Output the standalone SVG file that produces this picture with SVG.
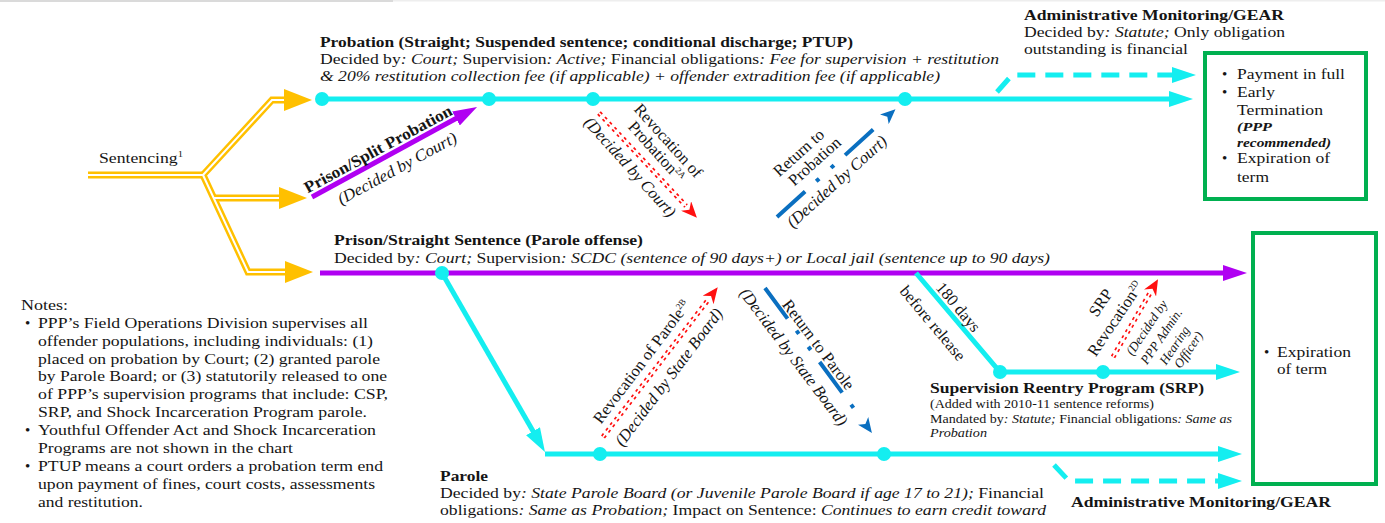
<svg xmlns="http://www.w3.org/2000/svg" width="1385" height="523" viewBox="0 0 1385 523">
  <style>
    text { font-family: "Liberation Serif", "Times New Roman", serif; font-size: 15px; fill: #151515; }
    .b { font-weight: bold; }
    .i { font-style: italic; }
    .sm { font-size: 12.5px; }
    .xs { font-size: 12px; }
    .rl { font-size: 16.5px; }
    .rs { font-size: 13px; }
    .sup { font-size: 9px; }
    .cy { fill: none; stroke: #14EEF0; stroke-width: 5; }
    .pu { fill: none; stroke: #B000F2; stroke-width: 5; }
    .yo { fill: none; stroke: #FFC000; stroke-width: 7; }
    .yi { fill: none; stroke: #FFFFFF; stroke-width: 2; }
    .rd { fill: none; stroke: #FF1010; stroke-width: 5; stroke-dasharray: 3 4; }
    .rw { fill: none; stroke: #FFFFFF; stroke-width: 1.6; }
    .bl { fill: none; stroke: #0A6FC0; stroke-width: 4; stroke-dasharray: 38 15 4 16 4 15; }
    .dash { stroke-dasharray: 18 10; }
    .dot { fill: #14EEF0; }
    .box { fill: #FFFFFF; stroke: #00B050; stroke-width: 4; }
  </style>
  <defs>
    <marker id="aCyan" markerUnits="userSpaceOnUse" viewBox="0 0 24 16" markerWidth="24" markerHeight="16" refX="12" refY="8" orient="auto">
      <path d="M0,0 L24,8 L0,16 z" fill="#14EEF0"/>
    </marker>
    <marker id="aPurple" markerUnits="userSpaceOnUse" viewBox="0 0 24 16" markerWidth="24" markerHeight="16" refX="12" refY="8" orient="auto">
      <path d="M0,0 L24,8 L0,16 z" fill="#B000F2"/>
    </marker>
    <marker id="aYellow" markerUnits="userSpaceOnUse" viewBox="0 0 28 22" markerWidth="28" markerHeight="22" refX="4" refY="11" orient="auto">
      <path d="M0,0 L28,11 L0,22 z" fill="#FFC000"/>
    </marker>
    <marker id="aRed" markerUnits="userSpaceOnUse" viewBox="0 0 16 14" markerWidth="16" markerHeight="14" refX="0" refY="7" orient="auto">
      <path d="M0,0 L16,7 L0,14 L5,7 z" fill="#FF1010"/>
    </marker>
    <!-- blue head sits past the last dash of the dash-dot line -->
    <marker id="aBlue" markerUnits="userSpaceOnUse" viewBox="0 0 15 13" markerWidth="15" markerHeight="13" refX="-14" refY="6.5" orient="auto">
      <path d="M0,0 L15,6.5 L0,13 L4,6.5 z" fill="#0A6FC0"/>
    </marker>
  </defs>

  <rect x="0" y="0" width="1385" height="523" fill="#FFFFFF"/>
  <rect x="0" y="0" width="393" height="2" fill="#DADADA"/>
  <rect x="393" y="0" width="992" height="1.5" fill="#EEEEEE"/>

  <!-- outcome boxes -->
  <g id="end-probation">
    <rect class="box" x="1205" y="53" width="161" height="146"/>
    <text x="1222" y="79">•</text>
    <text x="1237" y="79" textLength="108" lengthAdjust="spacingAndGlyphs">Payment in full</text>
    <text x="1222" y="97">•</text>
    <text x="1237" y="97" textLength="38" lengthAdjust="spacingAndGlyphs">Early</text>
    <text x="1237" y="115" textLength="86" lengthAdjust="spacingAndGlyphs">Termination</text>
    <text x="1237" y="131" class="b i xs" textLength="35" lengthAdjust="spacingAndGlyphs">(PPP</text>
    <text x="1237" y="147" class="b i xs" textLength="94" lengthAdjust="spacingAndGlyphs">recommended)</text>
    <text x="1222" y="163">•</text>
    <text x="1237" y="163" textLength="93" lengthAdjust="spacingAndGlyphs">Expiration of</text>
    <text x="1237" y="182" textLength="32" lengthAdjust="spacingAndGlyphs">term</text>
  </g>
  <g id="end-parole">
    <rect class="box" x="1253" y="233" width="123" height="251"/>
    <text x="1264" y="357">•</text>
    <text x="1277" y="357" textLength="74" lengthAdjust="spacingAndGlyphs">Expiration</text>
    <text x="1277" y="374" textLength="50" lengthAdjust="spacingAndGlyphs">of term</text>
  </g>

  <!-- connectors -->
  <g id="connectors">
    <!-- sentencing fork: double golden lines -->
    <path class="yo" d="M88,175 H203"/>
    <path class="yo" d="M203,175 L272,100 H288" marker-end="url(#aYellow)"/>
    <path class="yo" d="M203,175 L248,272 H289" marker-end="url(#aYellow)"/>
    <path class="yo" d="M214,198 H283" marker-end="url(#aYellow)"/>
    <path class="yi" d="M88,175 H203"/>
    <path class="yi" d="M203,175 L272,100 H284"/>
    <path class="yi" d="M203,175 L248,272 H285"/>
    <path class="yi" d="M214,198 H279"/>

    <!-- probation track -->
    <path class="cy" d="M322,99 H1181" marker-end="url(#aCyan)"/>
    <path class="cy dash" d="M997,92 L1012,75 H1184" marker-end="url(#aCyan)"/>

    <!-- prison / split probation -->
    <path class="pu" d="M312,197 L466.5,112.7" marker-end="url(#aPurple)"/>

    <!-- prison / straight sentence -->
    <path class="pu" d="M320,273 H1235" marker-end="url(#aPurple)"/>

    <!-- release to parole -->
    <path class="cy" d="M442,273 L539,441.6" marker-end="url(#aCyan)"/>
    <path class="cy" d="M545,454 H1230" marker-end="url(#aCyan)"/>
    <path class="cy dash" d="M1054,465 L1069,481 H1230" marker-end="url(#aCyan)"/>

    <!-- supervision reentry program -->
    <path class="cy" d="M916,273 L1000,372 H1228" marker-end="url(#aCyan)"/>

    <!-- revocations (double red dashes) -->
    <path class="rd" d="M599,113 L686,206" marker-end="url(#aRed)"/>
    <path class="rw" d="M599,113 L686,206"/>
    <path class="rd" d="M603,437 L708,300" marker-end="url(#aRed)"/>
    <path class="rw" d="M603,437 L708,300"/>
    <path class="rd" d="M1113,357 L1150,293" marker-end="url(#aRed)"/>
    <path class="rw" d="M1113,357 L1150,293"/>

    <!-- returns (blue dash-dot) -->
    <path class="bl" d="M777,217 L874,128.8" marker-end="url(#aBlue)"/>
    <path class="bl" d="M765,288 L854.7,409.6" marker-end="url(#aBlue)"/>

    <!-- junction dots -->
    <circle class="dot" cx="322" cy="99" r="7"/>
    <circle class="dot" cx="489" cy="99" r="7"/>
    <circle class="dot" cx="593" cy="99" r="7"/>
    <circle class="dot" cx="905" cy="99" r="7"/>
    <circle class="dot" cx="442" cy="273" r="7"/>
    <circle class="dot" cx="600" cy="454" r="7"/>
    <circle class="dot" cx="884" cy="454" r="7"/>
    <circle class="dot" cx="1000" cy="372" r="7"/>
    <circle class="dot" cx="1103" cy="372" r="7"/>
  </g>

  <g id="sentencing">
    <text x="99" y="163" textLength="84" lengthAdjust="spacingAndGlyphs">Sentencing<tspan class="sup" dy="-6">1</tspan></text>
  </g>

  <g id="probation">
    <text x="320" y="47" class="b" textLength="533" lengthAdjust="spacingAndGlyphs">Probation (Straight; Suspended sentence; conditional discharge; PTUP)</text>
    <text x="320" y="64" textLength="679" lengthAdjust="spacingAndGlyphs">Decided by<tspan class="i">: Court;</tspan> Supervision<tspan class="i">: Active;</tspan> Financial obligations<tspan class="i">: Fee for supervision + restitution</tspan></text>
    <text x="320" y="81" class="i" textLength="620" lengthAdjust="spacingAndGlyphs">&amp; 20% restitution collection fee (if applicable) + offender extradition fee (if applicable)</text>
  </g>

  <g id="admin-monitoring-probation">
    <text x="1024" y="20" class="b" textLength="260" lengthAdjust="spacingAndGlyphs">Administrative Monitoring/GEAR</text>
    <text x="1024" y="37" textLength="261" lengthAdjust="spacingAndGlyphs">Decided by<tspan class="i">: Statute;</tspan> Only obligation</text>
    <text x="1024" y="54" textLength="164" lengthAdjust="spacingAndGlyphs">outstanding is financial</text>
  </g>

  <g id="split-probation-label" transform="translate(312,197) rotate(-28.6)">
    <text x="-2" y="-5" class="b rl" textLength="166" lengthAdjust="spacingAndGlyphs">Prison/Split Probation</text>
    <text x="22" y="21" class="i rl" textLength="133" lengthAdjust="spacingAndGlyphs">(Decided by Court)</text>
  </g>

  <g id="revocation-probation-label" transform="translate(668,141) rotate(48)">
    <text x="0" y="5" text-anchor="middle" class="rl">Revocation of</text>
    <text x="0" y="21" text-anchor="middle" class="rl">Probation<tspan class="sup" dy="-6">2A</tspan></text>
    <text x="-6" y="51" text-anchor="middle" class="i rl">(Decided by Court)</text>
  </g>

  <g id="return-probation-label" transform="translate(799,153) rotate(-42)">
    <text x="0" y="5" text-anchor="middle" class="rl">Return to</text>
    <text x="6" y="22" text-anchor="middle" class="rl">Probation</text>
    <text x="9" y="52" text-anchor="middle" class="i rl">(Decided by Court)</text>
  </g>

  <g id="prison-straight">
    <text x="334" y="245" class="b" textLength="309" lengthAdjust="spacingAndGlyphs">Prison/Straight Sentence (Parole offense)</text>
    <text x="334" y="263" textLength="716" lengthAdjust="spacingAndGlyphs">Decided by<tspan class="i">: Court;</tspan> Supervision<tspan class="i">: SCDC (sentence of 90 days+) or Local jail (sentence up to 90 days)</tspan></text>
  </g>

  <g id="revocation-parole-label" transform="translate(642,362) rotate(-53)">
    <text x="0" y="5" text-anchor="middle" class="rl">Revocation of Parole<tspan class="sup" dy="-6">2B</tspan></text>
    <text x="4" y="36" text-anchor="middle" class="i rl">(Decided by State Board)</text>
  </g>

  <g id="return-parole-label" transform="translate(818,345) rotate(53)">
    <text x="0" y="5" text-anchor="middle" class="rl">Return to Parole</text>
    <text x="-5" y="32" text-anchor="middle" class="i rl">(Decided by State Board)</text>
  </g>

  <g id="release-label" transform="translate(958,323) rotate(50)">
    <text x="-12" y="-5" text-anchor="middle" class="rl">180 days</text>
    <text x="-16" y="25" text-anchor="middle" class="rl">before release</text>
  </g>

  <g id="srp-revocation-label" transform="translate(1101,303) rotate(-56)">
    <text x="0" y="5" text-anchor="middle" class="rl">SRP</text>
    <text x="-5" y="26" text-anchor="middle" class="rl">Revocation<tspan class="sup" dy="-6">2D</tspan></text>
    <text x="5" y="56" text-anchor="middle" class="i rs">(Decided by</text>
    <text x="6" y="73" text-anchor="middle" class="i rs">PPP Admin.</text>
    <text x="6" y="89" text-anchor="middle" class="i rs">Hearing</text>
    <text x="10" y="103" text-anchor="middle" class="i rs">Officer)</text>
  </g>

  <g id="srp">
    <text x="930" y="393" class="b" textLength="274" lengthAdjust="spacingAndGlyphs">Supervision Reentry Program (SRP)</text>
    <text x="930" y="408" class="sm" textLength="224" lengthAdjust="spacingAndGlyphs">(Added with 2010-11 sentence reforms)</text>
    <text x="930" y="423" class="sm" textLength="302" lengthAdjust="spacingAndGlyphs">Mandated by<tspan class="i">: Statute;</tspan> Financial obligations<tspan class="i">: Same as</tspan></text>
    <text x="930" y="437" class="sm i" textLength="57" lengthAdjust="spacingAndGlyphs">Probation</text>
  </g>

  <g id="parole">
    <text x="440" y="481" class="b" textLength="48" lengthAdjust="spacingAndGlyphs">Parole</text>
    <text x="440" y="498" textLength="604" lengthAdjust="spacingAndGlyphs">Decided by<tspan class="i">: State Parole Board (or Juvenile Parole Board if age 17 to 21);</tspan> Financial</text>
    <text x="440" y="515" textLength="606" lengthAdjust="spacingAndGlyphs">obligations<tspan class="i">: Same as Probation;</tspan> Impact on Sentence: <tspan class="i">Continues to earn credit toward</tspan></text>
  </g>

  <g id="admin-monitoring-parole">
    <text x="1071" y="507" class="b" textLength="260" lengthAdjust="spacingAndGlyphs">Administrative Monitoring/GEAR</text>
  </g>

  <g id="notes">
    <text x="21" y="310" textLength="47" lengthAdjust="spacingAndGlyphs">Notes:</text>
    <text x="25" y="328">•</text>
    <text x="38" y="328" textLength="330" lengthAdjust="spacingAndGlyphs">PPP’s Field Operations Division supervises all</text>
    <text x="38" y="346" textLength="335" lengthAdjust="spacingAndGlyphs">offender populations, including individuals: (1)</text>
    <text x="38" y="364" textLength="342" lengthAdjust="spacingAndGlyphs">placed on probation by Court; (2) granted parole</text>
    <text x="38" y="381" textLength="349" lengthAdjust="spacingAndGlyphs">by Parole Board; or (3) statutorily released to one</text>
    <text x="38" y="399" textLength="350" lengthAdjust="spacingAndGlyphs">of PPP’s supervision programs that include: CSP,</text>
    <text x="38" y="417" textLength="329" lengthAdjust="spacingAndGlyphs">SRP, and Shock Incarceration Program parole.</text>
    <text x="25" y="435">•</text>
    <text x="38" y="435" textLength="338" lengthAdjust="spacingAndGlyphs">Youthful Offender Act and Shock Incarceration</text>
    <text x="38" y="453" textLength="255" lengthAdjust="spacingAndGlyphs">Programs are not shown in the chart</text>
    <text x="25" y="471">•</text>
    <text x="38" y="471" textLength="345" lengthAdjust="spacingAndGlyphs">PTUP means a court orders a probation term end</text>
    <text x="38" y="489" textLength="337" lengthAdjust="spacingAndGlyphs">upon payment of fines, court costs, assessments</text>
    <text x="38" y="507" textLength="105" lengthAdjust="spacingAndGlyphs">and restitution.</text>
  </g>
</svg>
